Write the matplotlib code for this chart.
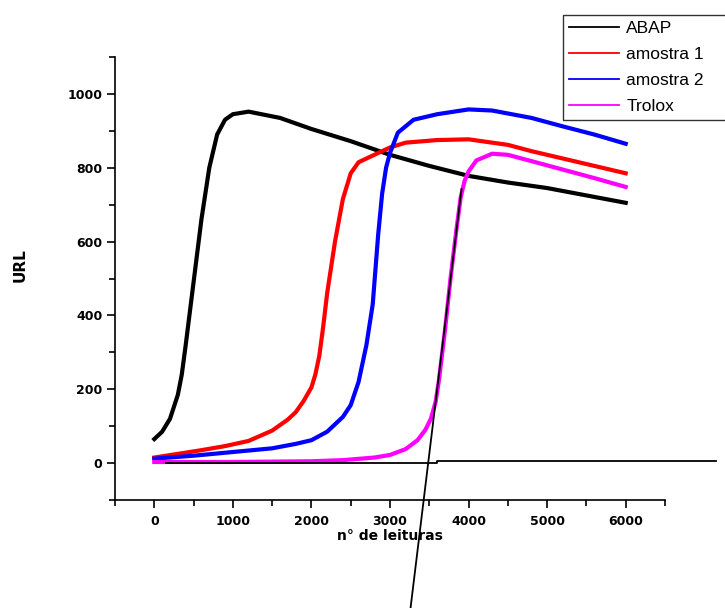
import matplotlib
matplotlib.use("Agg")
import matplotlib.pyplot as plt
from matplotlib.ticker import MultipleLocator

# ---------------------------------------------------------------------------
# Data (n° de leituras vs URL)
# ---------------------------------------------------------------------------
abap_x = [0, 100, 200, 300, 350, 400, 500, 600, 700, 800, 900, 1000,
          1200, 1600, 2000, 2500, 3000, 3500, 4000, 4500, 5000, 5500, 6000]
abap_y = [65, 85, 120, 185, 240, 320, 490, 660, 800, 890, 930, 945,
          952, 935, 905, 872, 835, 805, 778, 760, 745, 725, 705]

amostra1_x = [0, 300, 600, 900, 1200, 1500, 1700, 1800, 1900, 2000, 2050,
              2100, 2150, 2200, 2300, 2400, 2500, 2600, 2800, 3000, 3200,
              3600, 4000, 4500, 4800, 5200, 5600, 6000]
amostra1_y = [15, 25, 35, 46, 60, 88, 118, 138, 168, 205, 240,
              290, 370, 460, 600, 715, 785, 815, 835, 855, 868,
              875, 877, 862, 845, 825, 805, 785]

amostra2_x = [0, 500, 1000, 1500, 1800, 2000, 2200, 2400, 2500, 2600, 2700,
              2780, 2850, 2900, 2950, 3000, 3100, 3300, 3600, 4000, 4300,
              4800, 5200, 5600, 6000]
amostra2_y = [12, 20, 30, 40, 52, 62, 85, 125, 157, 220, 320,
              430, 620, 730, 800, 840, 895, 930, 945, 958, 955,
              935, 912, 890, 865]

trolox_x = [0, 1000, 1500, 2000, 2400, 2800, 3000, 3200, 3350, 3450, 3520,
            3580, 3620, 3700, 3770, 3850, 3900, 3950, 4000, 4100, 4300,
            4500, 4800, 5200, 5600, 6000]
trolox_y = [3, 3, 4, 5, 8, 15, 22, 38, 62, 90, 120,
            165, 220, 360, 500, 640, 720, 765, 790, 820, 838,
            835, 818, 795, 772, 748]

# baseline and tangent drawn over the Trolox curve
base_x = [150, 3600, 3600, 7150]
base_y = [0, 0, 5, 5]
tangent_x = [3910, 3220]
tangent_y = [742, -465]

series = [
    ("ABAP", abap_x, abap_y, "#000000"),
    ("amostra 1", amostra1_x, amostra1_y, "#ff0000"),
    ("amostra 2", amostra2_x, amostra2_y, "#0000ff"),
    ("Trolox", trolox_x, trolox_y, "#ff00ff"),
]

# ---------------------------------------------------------------------------
# Plot
# ---------------------------------------------------------------------------
fig = plt.figure(figsize=(7.25, 6.08), dpi=100)
ax = fig.add_axes([115 / 725, 1 - 500 / 608, 550 / 725, 443 / 608])

handles = []
for label, xs, ys, color in series:
    (ln,) = ax.plot(xs, ys, color=color, linewidth=3.0, label=label)
    handles.append(ln)

ax.plot(base_x, base_y, color="black", linewidth=1.3, clip_on=False)
ax.plot(tangent_x, tangent_y, color="black", linewidth=1.3, clip_on=False)

ax.set_xlim(-500, 6500)
ax.set_ylim(-100, 1100)
ax.xaxis.set_major_locator(MultipleLocator(1000))
ax.xaxis.set_minor_locator(MultipleLocator(500))
ax.yaxis.set_major_locator(MultipleLocator(200))
ax.yaxis.set_minor_locator(MultipleLocator(100))

for side in ("top", "right"):
    ax.spines[side].set_visible(False)
for side in ("left", "bottom"):
    ax.spines[side].set_linewidth(1.2)

ax.tick_params(which="major", direction="out", length=6, width=1.2)
ax.tick_params(which="minor", direction="out", length=4, width=1.2)
ax.tick_params(axis="x", pad=5)
ax.tick_params(axis="y", pad=3)
for lbl in ax.get_xticklabels() + ax.get_yticklabels():
    lbl.set_fontweight("bold")
    lbl.set_fontsize(9)

ax.set_xlabel("n° de leituras", fontsize=10, fontweight="bold")
ax.set_ylabel("URL", fontsize=11, fontweight="bold")
ax.xaxis.set_label_coords(0.5, -0.066)
ax.yaxis.set_label_coords(-0.158, 0.53)

# legend box runs past the right edge of the figure, as in the reference
leg = fig.legend(
    handles=handles,
    loc="upper left",
    bbox_to_anchor=(563 / 725, 0, 185 / 725, 1 - 15 / 608),
    mode="expand",
    frameon=True,
    fancybox=False,
    prop={"family": "Liberation Sans", "size": 12.5},
    handlelength=2.9,
    handletextpad=0.4,
    labelspacing=0.62,
    borderpad=0.35,
    borderaxespad=0,
)
leg.get_frame().set_edgecolor("black")
leg.get_frame().set_linewidth(1.0)
for h in leg.get_lines():
    h.set_linewidth(1.3)

fig.savefig("out.png", dpi=100)
